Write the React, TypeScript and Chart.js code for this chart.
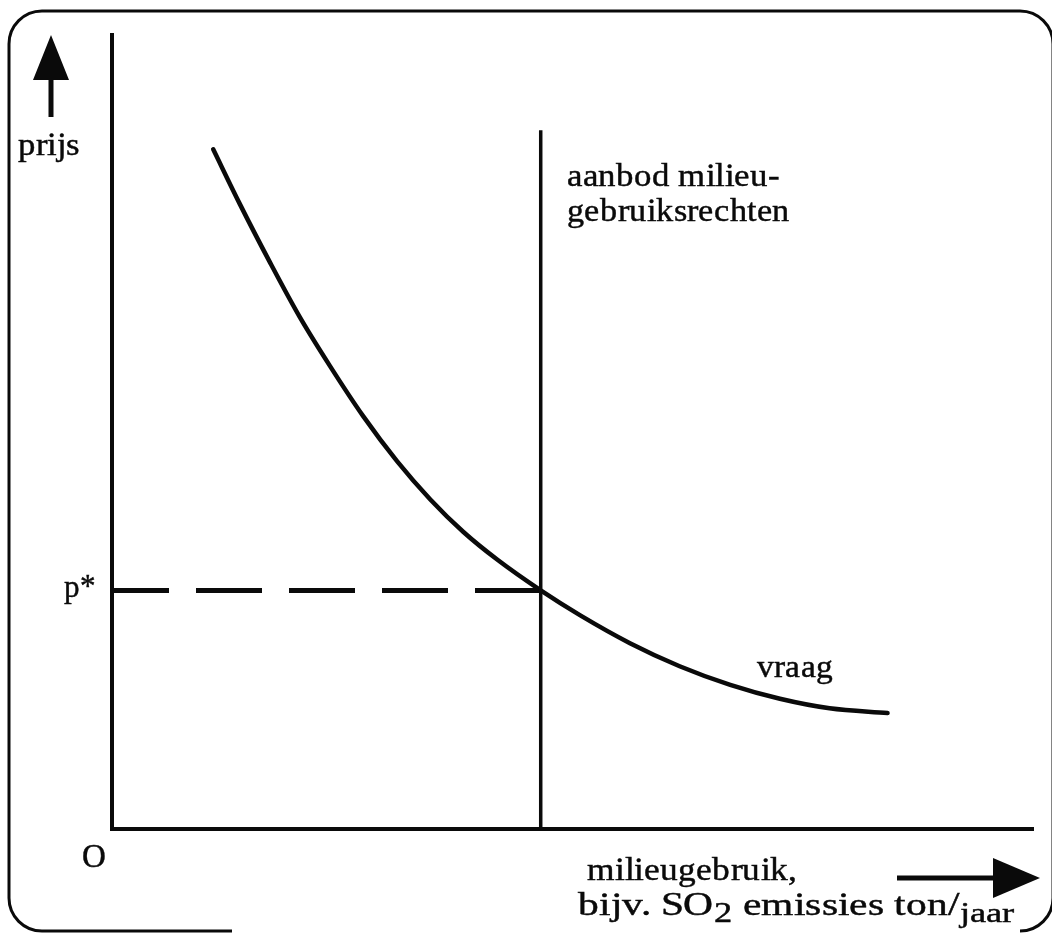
import React, { useEffect, useRef } from "react";
import { Chart, registerables } from "chart.js";

Chart.register(...registerables);

// ---- data (abstract units: quantity 0..100, price 0..100) ----
const X_MAX = 100;
const Y_MAX = 100;
const Q_STAR = 46.6; // supply of environmental use rights (fixed quantity)
const P_STAR = 30.05; // equilibrium price
const SUPPLY_TOP = 88;

const demandQ = [11.0, 13.9, 17.2, 20.4, 23.7, 27.3, 31.0, 34.6, 38.2, 41.9, 46.6, 50.9, 56.3, 61.7, 67.2, 72.6, 78.0, 84.3];
const demandP = [85.6, 78.7, 71.3, 64.5, 58.3, 52.0, 46.3, 41.5, 37.4, 33.9, 30.05, 26.9, 23.4, 20.5, 18.15, 16.4, 15.2, 14.6];

const LABEL_Y = "prijs";
const LABEL_PSTAR = "p*";
const LABEL_ORIGIN = "O";
const LABEL_SUPPLY = ["aanbod milieu-", "gebruiksrechten"];
const LABEL_DEMAND = "vraag";
const LABEL_X1 = "milieugebruik,";
const LABEL_X2 = [
  { t: "bijv. SO", sub: false },
  { t: "2", sub: true },
  { t: " emissies ton/", sub: false },
  { t: "jaar", sub: true },
];

const FONT = '"RefSerif", "Liberation Serif", "Times New Roman", serif';
const INK = "#0a0a0a";
const TEXT_STROKE = 0.45;

function fitText(
  ctx: CanvasRenderingContext2D,
  text: string,
  x: number,
  y: number,
  size: number,
  width?: number
) {
  ctx.save();
  ctx.font = `${size}px ${FONT}`;
  ctx.textBaseline = "alphabetic";
  ctx.textAlign = "left";
  const w = ctx.measureText(text).width;
  const k = width ? width / w : 1;
  ctx.translate(x, y);
  ctx.scale(k, 1);
  ctx.fillStyle = INK;
  ctx.strokeStyle = INK;
  ctx.lineWidth = TEXT_STROKE;
  ctx.fillText(text, 0, 0);
  ctx.strokeText(text, 0, 0);
  ctx.restore();
}

const bgPlugin = {
  id: "bg",
  beforeDraw(chart: any) {
    const ctx = chart.ctx as CanvasRenderingContext2D;
    ctx.save();
    ctx.fillStyle = "#ffffff";
    ctx.fillRect(0, 0, chart.width, chart.height);
    ctx.restore();
  },
};

const decorPlugin = {
  id: "decor",
  afterDraw(chart: any) {
    const ctx = chart.ctx as CanvasRenderingContext2D;
    const xs = chart.scales.x;
    const ys = chart.scales.y;
    const x0 = xs.getPixelForValue(0);
    const y0 = ys.getPixelForValue(0);
    const yTop = ys.getPixelForValue(Y_MAX);
    const xEnd = xs.getPixelForValue(X_MAX);
    const pY = ys.getPixelForValue(P_STAR);
    const qX = xs.getPixelForValue(Q_STAR);

    ctx.save();
    ctx.strokeStyle = INK;
    ctx.fillStyle = INK;

    // rounded frame (scan: bottom edge partly missing)
    const L = 9, T = 11, R = 1053, B = 931, r = 33;
    ctx.lineWidth = 3;
    ctx.beginPath();
    ctx.moveTo(232, B);
    ctx.lineTo(L + r, B);
    ctx.arcTo(L, B, L, B - r, r);
    ctx.lineTo(L, T + r);
    ctx.arcTo(L, T, L + r, T, r);
    ctx.lineTo(R - r, T);
    ctx.arcTo(R, T, R, T + r, r);
    ctx.lineTo(R, B - r);
    ctx.arcTo(R, B, R - r, B, r);
    ctx.stroke();

    // up arrow (price)
    const ax = x0 - 61;
    ctx.beginPath();
    ctx.moveTo(ax, yTop);
    ctx.lineTo(ax + 18, yTop + 45);
    ctx.lineTo(ax - 18, yTop + 45);
    ctx.closePath();
    ctx.fill();
    ctx.fillRect(ax - 2.5, yTop + 40, 5, 42);

    // right arrow (quantity)
    const ay = y0 + 49;
    const tipX = xEnd + 8;
    ctx.beginPath();
    ctx.moveTo(tipX, ay);
    ctx.lineTo(tipX - 47, ay - 20);
    ctx.lineTo(tipX - 47, ay + 20);
    ctx.closePath();
    ctx.fill();
    ctx.fillRect(tipX - 143, ay - 2.5, 100, 5);

    ctx.restore();

    // texts
    fitText(ctx, LABEL_Y, ax - 33, yTop + 120, 33, 62);
    fitText(ctx, LABEL_PSTAR, x0 - 48, pY + 7, 33, 32);
    fitText(ctx, LABEL_ORIGIN, x0 - 30, y0 + 38, 33, 24);
    fitText(ctx, LABEL_SUPPLY[0], qX + 26, 186, 33, 213);
    fitText(ctx, LABEL_SUPPLY[1], qX + 26, 221, 33, 223);
    fitText(ctx, LABEL_DEMAND, 757, 677, 33, 76);
    fitText(ctx, LABEL_X1, 587, y0 + 51, 33, 210);

    // second x label line with subscripts
    ctx.save();
    const big = 33, small = 29;
    let total = 0;
    for (const seg of LABEL_X2) {
      ctx.font = `${seg.sub ? small : big}px ${FONT}`;
      total += ctx.measureText(seg.t).width;
    }
    const target = 437;
    const k = target / total;
    ctx.translate(578, y0 + 86);
    ctx.scale(k, 1);
    ctx.fillStyle = INK;
    ctx.strokeStyle = INK;
    ctx.lineWidth = TEXT_STROKE;
    let cx = 0;
    for (const seg of LABEL_X2) {
      ctx.font = `${seg.sub ? small : big}px ${FONT}`;
      ctx.fillText(seg.t, cx, seg.sub ? 7 : 0);
      ctx.strokeText(seg.t, cx, seg.sub ? 7 : 0);
      cx += ctx.measureText(seg.t).width;
    }
    ctx.restore();
  },
};

export default function App() {
  const ref = useRef<HTMLCanvasElement>(null);

  useEffect(() => {
    const canvas = ref.current;
    if (!canvas) return;
    const demand = demandQ.map((q, i) => ({ x: q, y: demandP[i] }));
    const base = {
      showLine: true,
      pointRadius: 0,
      borderColor: INK,
      backgroundColor: INK,
      clip: false as any,
      fill: false,
    };
    const chart = new Chart(canvas, {
      type: "scatter",
      data: {
        datasets: [
          {
            ...base,
            label: "y-as",
            data: [
              { x: 0, y: 0 },
              { x: 0, y: Y_MAX },
            ],
            borderWidth: 4,
            borderCapStyle: "square",
          },
          {
            ...base,
            label: "x-as",
            data: [
              { x: 0, y: 0 },
              { x: X_MAX, y: 0 },
            ],
            borderWidth: 4,
            borderCapStyle: "square",
          },
          {
            ...base,
            label: "aanbod",
            data: [
              { x: Q_STAR, y: 0 },
              { x: Q_STAR, y: SUPPLY_TOP },
            ],
            borderWidth: 3.5,
          },
          {
            ...base,
            label: "p*",
            data: [
              { x: 0, y: P_STAR },
              { x: Q_STAR, y: P_STAR },
            ],
            borderWidth: 5,
            borderDash: [66, 27],
            borderDashOffset: 9,
          },
          {
            ...base,
            label: "vraag",
            data: demand,
            borderWidth: 4.5,
            cubicInterpolationMode: "monotone",
            borderCapStyle: "round",
          },
        ] as any,
      },
      options: {
        responsive: false,
        animation: false,
        devicePixelRatio: 1,
        layout: { padding: { left: 112, top: 35, right: 20, bottom: 105 } },
        scales: {
          x: { type: "linear", min: 0, max: X_MAX, display: false },
          y: { type: "linear", min: 0, max: Y_MAX, display: false },
        },
        plugins: {
          legend: { display: false },
          tooltip: { enabled: false },
        },
      },
      plugins: [bgPlugin, decorPlugin],
    });

    let alive = true;
    try {
      const FF: any = (window as any).FontFace;
      if (FF) {
        const face = new FF(
          "RefSerif",
          'local("Liberation Serif"), local("LiberationSerif"), local("LiberationSerif-Regular")'
        );
        face
          .load()
          .then((f: any) => {
            (document as any).fonts.add(f);
            if (alive) chart.draw();
          })
          .catch(() => {});
      }
      (document as any).fonts?.ready?.then(() => {
        if (alive) chart.draw();
      });
    } catch (e) {
      /* ignore */
    }

    return () => {
      alive = false;
      chart.destroy();
    };
  }, []);

  return (
    <div
      style={{
        position: "fixed",
        left: 0,
        top: 0,
        width: 1052,
        height: 934,
        background: "#ffffff",
      }}
    >
      <canvas
        ref={ref}
        width={1052}
        height={934}
        style={{ display: "block", width: 1052, height: 934 }}
      />
    </div>
  );
}
